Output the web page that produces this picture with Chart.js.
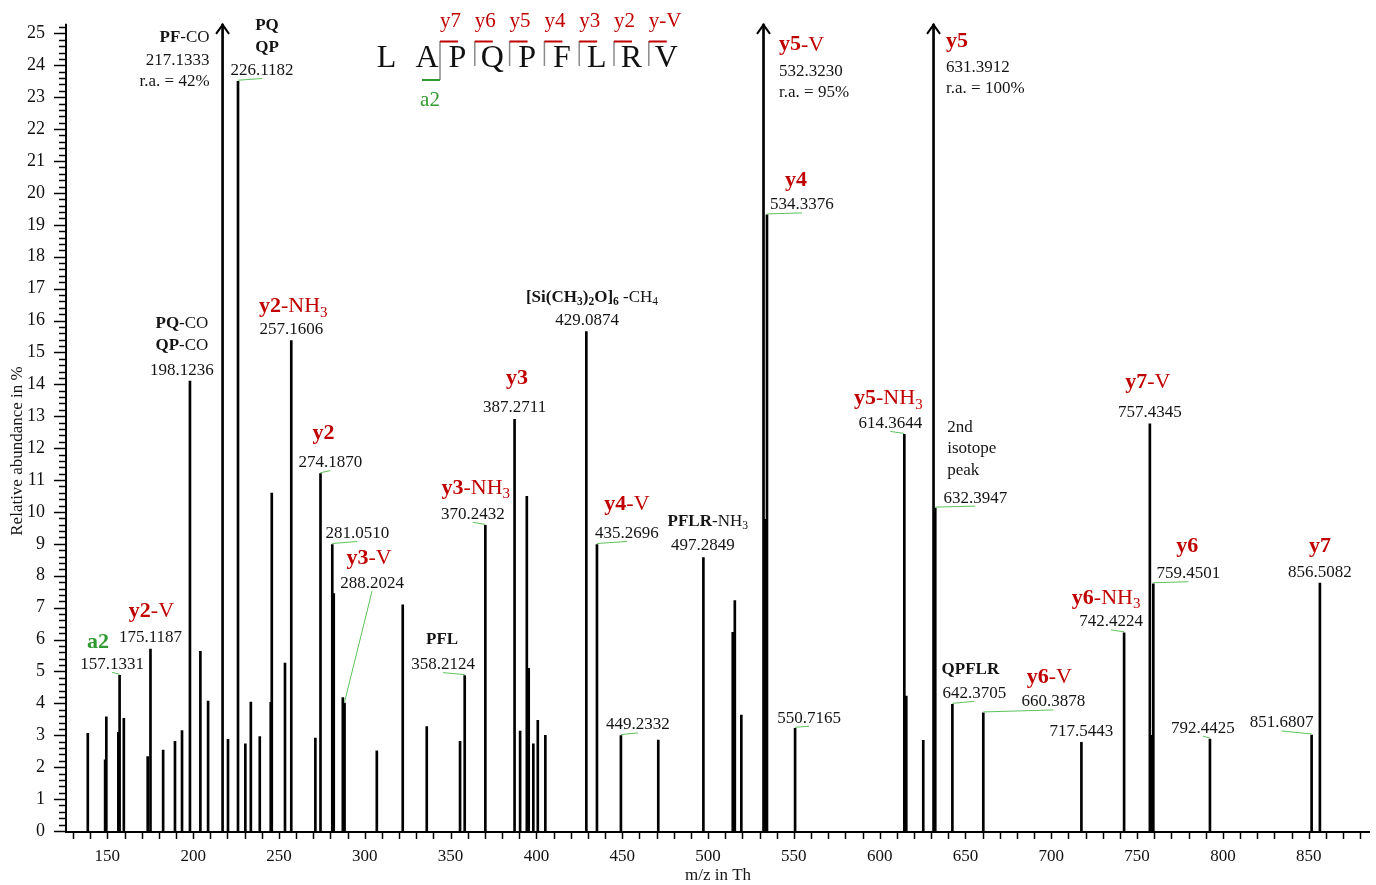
<!DOCTYPE html>
<html>
<head>
<meta charset="utf-8">
<script src="https://cdn.jsdelivr.net/npm/chart.js@4.4.0/dist/chart.umd.min.js"></script>
<style>
    html, body { margin: 0; padding: 0; background: #fff; }
    #wrap { width: 1376px; height: 885px; }
</style>
</head>
<body>
<div id="wrap"><canvas id="spectrum" width="1376" height="885"></canvas></div>
<script>
// peaks: m/z and relative abundance in %
const peakMz = [
    138.6, 148.7, 149.4, 156.4, 157.1331, 159.6, 173.5, 175.1187, 182.5, 189.4,
    193.5, 198.1236, 204.2, 208.7, 217.1333, 220.3, 226.1182, 230.4, 233.6, 238.8,
    245.2, 245.8, 253.5, 257.1606, 271.2, 274.1870, 281.0510, 281.9, 287.2, 288.2024,
    307.0, 322.1, 336.1, 355.5, 358.2124, 370.2432, 387.2711, 390.5, 394.4, 395.5,
    398.2, 400.8, 405.2, 429.0874, 435.2696, 449.2332, 471.0, 497.2849, 514.4, 515.6,
    519.4, 532.3230, 533.3, 534.3376, 550.7165, 614.3644, 615.5, 625.4, 631.3912, 632.3947,
    642.3705, 660.3878, 717.5443, 742.4224, 757.4345, 758.3, 759.4501, 792.4425, 851.6807, 856.5082
];
const peakAbundance = [
    3.06, 2.23, 3.58, 3.09, 4.88, 3.53, 2.33, 5.70, 2.54, 2.81,
    3.15, 14.1, 5.63, 4.07, 42, 2.87, 23.5, 2.73, 4.04, 2.96,
    4.03, 10.59, 5.26, 15.37, 2.91, 11.2, 8.98, 7.44, 4.18, 4.01,
    2.51, 7.09, 3.27, 2.81, 4.87, 9.58, 12.9, 3.13, 10.49, 5.10,
    2.73, 3.47, 3.0, 15.65, 8.98, 2.99, 2.85, 8.57, 6.23, 7.22,
    3.63, 95, 9.77, 19.31, 3.22, 12.43, 4.23, 2.84, 100, 10.12,
    3.97, 3.70, 2.78, 6.21, 12.76, 3.0, 7.75, 2.88, 3.01, 7.77
];

const xTickValues = [150, 200, 250, 300, 350, 400, 450, 500, 550, 600, 650, 700, 750, 800, 850];
const yTickValues = [0, 1, 2, 3, 4, 5, 6, 7, 8, 9, 10, 11, 12, 13, 14, 15, 16, 17, 18, 19, 20, 21, 22, 23, 24, 25];

// labelled peaks. *..* = bold, _x = subscript, | = new line
const annotMz = [
    157.1331, 175.1187, 198.1236, 217.1333, 226.1182, 257.1606, 274.1870, 281.0510, 288.2024, 358.2124,
    370.2432, 387.2711, 429.0874, 435.2696, 449.2332, 497.2849, 532.3230, 534.3376, 550.7165, 614.3644,
    631.3912, 632.3947, 642.3705, 660.3878, 717.5443, 742.4224, 757.4345, 759.4501, 792.4425, 851.6807,
    856.5082
];
const annotIon = [
    '*a2*', '*y2*-V', '*PQ*-CO|*QP*-CO', '*PF*-CO', '*PQ*|*QP*', '*y2*-NH_3', '*y2*', '', '*y3*-V', '*PFL*',
    '*y3*-NH_3', '*y3*', '*[Si(CH_3)_2O]_6* -CH_4', '*y4*-V', '', '*PFLR*-NH_3', '*y5*-V', '*y4*', '', '*y5*-NH_3',
    '*y5*', '2nd|isotope|peak', '*QPFLR*', '*y6*-V', '', '*y6*-NH_3', '*y7*-V', '*y6*', '', '',
    '*y7*'
];
// a = a-ion (green), y = y-ion (red), k = other fragment (black), n = note
const annotKind = [
    'a', 'y', 'k', 'k', 'k', 'y', 'y', '', 'y', 'k',
    'y', 'y', 'k', 'y', '', 'k', 'y', 'y', '', 'y',
    'y', 'n', 'k', 'y', '', 'y', 'y', 'y', '', '',
    'y'
];

// peptide sequence drawn above the spectrum
const sequence = ['L', 'A', 'P', 'Q', 'P', 'F', 'L', 'R', 'V'];
const seqIons = ['y7', 'y6', 'y5', 'y4', 'y3', 'y2', 'y-V'];

// placement of the labels, pixels from the peak top (or from the plot top for clipped peaks)
const annotLayout = [
    {dx: -7.5, dy: -11, ix: -21.5, iy: -33, lead: true},
    {dx: 0, dy: -11.7, ix: 1, iy: -37.7},
    {dx: -8, dy: -11, ix: -8, iy: -36},
    {dx: -13, dy: 37, ix: -13, iy: 14, align: 'right'},
    {dx: 24, dy: -10.7, ix: 29, iy: -33.7, lead: true},
    {dx: 0, dy: -11.3, ix: 2, iy: -34},
    {dx: 10, dy: -11, ix: 3, iy: -40, lead: true},
    {dx: 25, dy: -11, lead: true},
    {dx: 27.5, dy: -120, ix: 24.5, iy: -145, lead: true},
    {dx: -21.6, dy: -11, ix: -22.6, iy: -36, lead: true},
    {dx: -12.6, dy: -11, ix: -9.6, iy: -37, lead: true},
    {dx: 0, dy: -11.7, ix: 2.4, iy: -41},
    {dx: 0.7, dy: -11, ix: 5.7, iy: -34},
    {dx: 30, dy: -11, ix: 30, iy: -40, lead: true},
    {dx: 17, dy: -10.7, lead: true},
    {dx: -0.6, dy: -11.7, ix: 4.4, iy: -36},
    {dx: 15.5, dy: 48, ix: 15.5, iy: 21, align: 'left'},
    {dx: 35, dy: -10, ix: 29, iy: -35, lead: true},
    {dx: 14, dy: -10, lead: true},
    {dx: -14, dy: -11, ix: -16, iy: -36, lead: true},
    {dx: 12.5, dy: 44, ix: 12.5, iy: 18, align: 'left'},
    {dx: 40, dy: -10, ix: 12, iy: -38, ionAlign: 'left', lead: true},
    {dx: 22, dy: -11, ix: 18, iy: -35, lead: true},
    {dx: 70, dy: -11, ix: 66, iy: -36, lead: true},
    {dx: 0, dy: -11},
    {dx: -13, dy: -11, ix: -18, iy: -35, lead: true},
    {dx: 0, dy: -11, ix: -2, iy: -42},
    {dx: 35, dy: -10, ix: 34, iy: -37, lead: true},
    {dx: -7, dy: -11, lead: true},
    {dx: -30, dy: -12, lead: true},
    {dx: 0, dy: -11, ix: 0, iy: -37}
];

const xMin = 125.9, xMax = 885.7, yMax = 25.3;
const serif = "'Liberation Serif', 'Times New Roman', serif";
const red = '#c00000';
const green = '#2f9a2f';
const leaderGreen = '#5cc25c';
const ink = '#141414';

function richParts(str) {
    var parts = [];
    var bold = false;
    for (var i = 0; i < str.length; i++) {
        var c = str[i];
        if (c === '*') { bold = !bold; continue; }
        if (c === '_') { parts.push({t: str[++i], bold: bold, sub: true}); continue; }
        var last = parts[parts.length - 1];
        if (last && !last.sub && last.bold === bold) last.t += c;
        else parts.push({t: c, bold: bold, sub: false});
    }
    return parts;
}

function drawRich(ctx, str, x, y, size, color, align) {
    var parts = richParts(str);
    var w = 0;
    parts.forEach(function(p) {
        p.s = p.sub ? size * 0.68 : size;
        ctx.font = (p.bold ? 'bold ' : '') + p.s + 'px ' + serif;
        p.w = ctx.measureText(p.t).width;
        w += p.w;
    });
    var cx = align === 'left' ? x : (align === 'right' ? x - w : x - w / 2);
    ctx.fillStyle = color;
    ctx.textAlign = 'left';
    ctx.textBaseline = 'middle';
    parts.forEach(function(p) {
        ctx.font = (p.bold ? 'bold ' : '') + p.s + 'px ' + serif;
        ctx.fillText(p.t, cx, p.sub ? y + size * 0.28 : y);
        cx += p.w;
    });
}

const spectrumDecor = {
    id: 'spectrumDecor',
    afterDatasetsDraw: function(chart) {
        const ctx = chart.ctx;
        const xs = chart.scales.x, ys = chart.scales.y;
        const area = chart.chartArea;
        ctx.save();

        // axes
        ctx.strokeStyle = '#000';
        ctx.lineWidth = 2;
        ctx.beginPath();
        ctx.moveTo(area.left, area.top);
        ctx.lineTo(area.left, area.bottom + 1);
        ctx.lineTo(area.right, area.bottom + 1);
        ctx.stroke();

        // y ticks every 0.2, longer at the integers
        ctx.lineWidth = 1.5;
        ctx.beginPath();
        for (var k = 0; k <= Math.floor(yMax * 5 + 1e-6); k++) {
            var py = Math.round(ys.getPixelForValue(k / 5)) + 0.5;
            var len = k % 5 === 0 ? 12 : 7;
            ctx.moveTo(area.left - len, py);
            ctx.lineTo(area.left, py);
        }
        ctx.stroke();

        // x ticks every 10
        ctx.beginPath();
        for (var v = 130; v <= xMax; v += 10) {
            var px = Math.round(xs.getPixelForValue(v)) + 0.5;
            ctx.moveTo(px, area.bottom + 1);
            ctx.lineTo(px, area.bottom + 8);
        }
        ctx.stroke();

        // arrow heads on the peaks that run off the top
        ctx.lineWidth = 2;
        peakMz.forEach(function(mz, i) {
            if (peakAbundance[i] <= yMax) return;
            var px = xs.getPixelForValue(mz);
            ctx.beginPath();
            ctx.moveTo(px - 6.5, area.top + 10);
            ctx.lineTo(px, area.top + 1);
            ctx.lineTo(px + 6.5, area.top + 10);
            ctx.stroke();
        });

        // peak labels
        annotMz.forEach(function(mz, i) {
            var k = peakMz.indexOf(mz);
            var h = peakAbundance[k];
            var lay = annotLayout[i];
            var px = xs.getPixelForValue(mz);
            var py = h > yMax ? area.top : ys.getPixelForValue(h);
            var align = lay.align || 'center';
            var mx = px + lay.dx, my = py + lay.dy;
            if (lay.lead) {
                ctx.strokeStyle = leaderGreen;
                ctx.lineWidth = 1;
                ctx.beginPath();
                ctx.moveTo(px, py - 1);
                ctx.lineTo(mx, my + 8);
                ctx.stroke();
            }
            drawRich(ctx, mz.toFixed(4), mx, my, 17, ink, align);
            if (h > yMax) drawRich(ctx, 'r.a. = ' + h + '%', mx, my + 21, 17, ink, align);
            if (annotIon[i]) {
                var kind = annotKind[i];
                var size = (kind === 'y' || kind === 'a') ? 22 : 17;
                var color = kind === 'y' ? red : (kind === 'a' ? green : ink);
                var lines = annotIon[i].split('|');
                lines.forEach(function(line, j) {
                    drawRich(ctx, line, px + lay.ix, py + lay.iy - (lines.length - 1 - j) * 21.5,
                        size, color, lay.ionAlign || align);
                });
            }
        });

        // sequence with fragment markers
        var sepX = function(j) { return 440 + j * 34.8; };
        var letterX = function(i) { return i < 2 ? 386.5 + i * 40.5 : 457.5 + (i - 2) * 34.8; };
        ctx.fillStyle = '#111';
        ctx.font = '32px ' + serif;
        ctx.textAlign = 'center';
        ctx.textBaseline = 'alphabetic';
        sequence.forEach(function(aa, i) { ctx.fillText(aa, letterX(i), 67); });
        ctx.strokeStyle = '#8a8a8a';
        ctx.lineWidth = 1.5;
        seqIons.forEach(function(lab, j) {
            ctx.beginPath();
            ctx.moveTo(sepX(j), 41);
            ctx.lineTo(sepX(j), j === 0 ? 80 : 66);
            ctx.stroke();
        });
        ctx.strokeStyle = red;
        ctx.lineWidth = 2;
        seqIons.forEach(function(lab, j) {
            ctx.beginPath();
            ctx.moveTo(sepX(j), 41.5);
            ctx.lineTo(sepX(j) + 18, 41.5);
            ctx.stroke();
            drawRich(ctx, lab, sepX(j), 21, 21, red, 'left');
        });
        ctx.strokeStyle = green;
        ctx.beginPath();
        ctx.moveTo(422, 80);
        ctx.lineTo(sepX(0), 80);
        ctx.stroke();
        drawRich(ctx, 'a2', 430, 100, 21, green, 'center');

        // axis titles
        drawRich(ctx, 'm/z in Th', 718, 876, 17, ink, 'center');
        ctx.translate(18, 451);
        ctx.rotate(-Math.PI / 2);
        drawRich(ctx, 'Relative abundance in %', 0, 0, 17, ink, 'center');
        ctx.restore();
    }
};

const ctx = document.getElementById('spectrum').getContext('2d');
const chart = new Chart(ctx, {
    type: 'bar',
    data: {
        datasets: [{
            data: peakMz.map(function(mz, i) { return {x: mz, y: peakAbundance[i]}; }),
            backgroundColor: '#000',
            barThickness: 2,
            clip: 0
        }]
    },
    options: {
        responsive: false,
        devicePixelRatio: 1,
        animation: false,
        layout: { padding: { top: 20, right: 6, left: 0, bottom: 0 } },
        plugins: { legend: { display: false }, tooltip: { enabled: false } },
        scales: {
            x: {
                type: 'linear',
                offset: false,
                min: xMin,
                max: xMax,
                afterFit: function(scale) { scale.height = 54; },
                afterBuildTicks: function(scale) {
                    scale.ticks = xTickValues.map(function(v) { return {value: v}; });
                },
                grid: { display: false, offset: false },
                border: { display: false },
                ticks: { color: '#111', padding: 7, maxRotation: 0, autoSkip: false,
                         font: { family: serif, size: 17 } }
            },
            y: {
                min: 0,
                max: yMax,
                afterFit: function(scale) { scale.width = 66; },
                afterBuildTicks: function(scale) {
                    scale.ticks = yTickValues.map(function(v) { return {value: v}; });
                },
                grid: { display: false },
                border: { display: false },
                ticks: { color: '#111', padding: 13, autoSkip: false,
                         font: { family: serif, size: 18 } }
            }
        }
    },
    plugins: [spectrumDecor]
});
</script>
</body>
</html>
